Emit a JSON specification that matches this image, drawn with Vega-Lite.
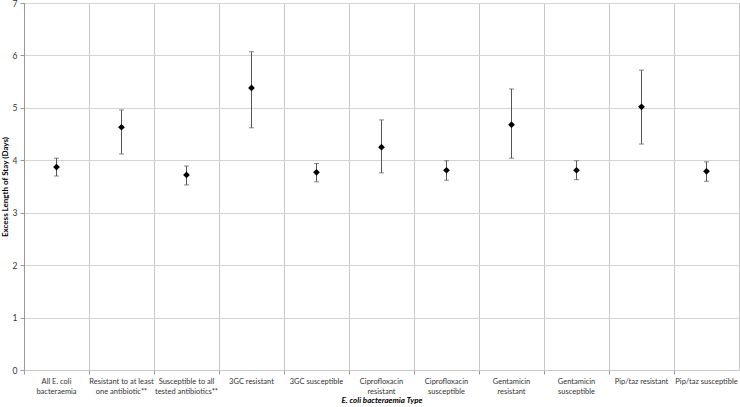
{
  "$schema": "https://vega.github.io/schema/vega-lite/v6.json",
  "autosize": "none",
  "width": 715,
  "height": 367,
  "padding": {"left": 24, "top": 3, "right": 1, "bottom": 37},
  "background": "white",
  "config": {
    "font": "Lato",
    "view": {"stroke": "#c8c8c8", "strokeWidth": 1},
    "axis": {"labelFont": "Lato", "titleFont": "Lato", "labelColor": "#333", "titleColor": "#000"}
  },
  "data": {"values": [
    {"type": "All E. coli|bacteraemia", "est": 3.87, "lo": 3.70, "hi": 4.04},
    {"type": "Resistant to at least|one antibiotic**", "est": 4.63, "lo": 4.12, "hi": 4.96},
    {"type": "Susceptible to all|tested antibiotics**", "est": 3.72, "lo": 3.53, "hi": 3.89},
    {"type": "3GC resistant", "est": 5.38, "lo": 4.62, "hi": 6.07},
    {"type": "3GC susceptible", "est": 3.77, "lo": 3.59, "hi": 3.94},
    {"type": "Ciprofloxacin|resistant", "est": 4.25, "lo": 3.76, "hi": 4.77},
    {"type": "Ciprofloxacin|susceptible", "est": 3.81, "lo": 3.62, "hi": 3.99},
    {"type": "Gentamicin|resistant", "est": 4.68, "lo": 4.04, "hi": 5.36},
    {"type": "Gentamicin|susceptible", "est": 3.81, "lo": 3.63, "hi": 3.99},
    {"type": "Pip/taz resistant", "est": 5.02, "lo": 4.31, "hi": 5.72},
    {"type": "Pip/taz susceptible", "est": 3.79, "lo": 3.60, "hi": 3.97}
  ]},
  "encoding": {
    "x": {
      "field": "type", "type": "nominal", "sort": null,
      "scale": {"paddingInner": 0, "paddingOuter": 0},
      "axis": {
        "title": "E. coli bacteraemia Type",
        "titleFontSize": 8, "titleFontWeight": "bold", "titleFontStyle": "italic", "titlePadding": 2,
        "labelAngle": 0, "labelFontSize": 7.5, "labelLineHeight": 10, "labelPadding": 3,
        "labelExpr": "split(datum.value, '|')",
        "bandPosition": 0, "grid": true, "gridColor": "#c8c8c8", "gridWidth": 1,
        "ticks": true, "tickColor": "#999", "tickSize": 4,
        "domain": true, "domainColor": "#c8c8c8"
      }
    }
  },
  "layer": [
    {
      "mark": {"type": "errorbar", "ticks": {"size": 5, "color": "#555", "strokeWidth": 1}, "rule": {"color": "#555", "strokeWidth": 1}},
      "encoding": {
        "y": {"field": "lo", "type": "quantitative",
          "scale": {"domain": [0, 7], "nice": false},
          "axis": {"title": "Excess Length of Stay (Days)", "titleFontSize": 8, "titleFontWeight": "bold", "titlePadding": 3,
            "values": [0,1,2,3,4,5,6,7], "format": "d", "labelFontSize": 8.5, "labelPadding": 3,
            "grid": true, "gridColor": "#d4d4d4", "gridWidth": 1,
            "ticks": true, "tickSize": 4, "tickColor": "#999", "domainColor": "#999"}},
        "y2": {"field": "hi"}
      }
    },
    {
      "mark": {"type": "point", "shape": "diamond", "filled": true, "color": "#000", "size": 45, "opacity": 1},
      "encoding": {"y": {"field": "est", "type": "quantitative"}}
    }
  ]
}
